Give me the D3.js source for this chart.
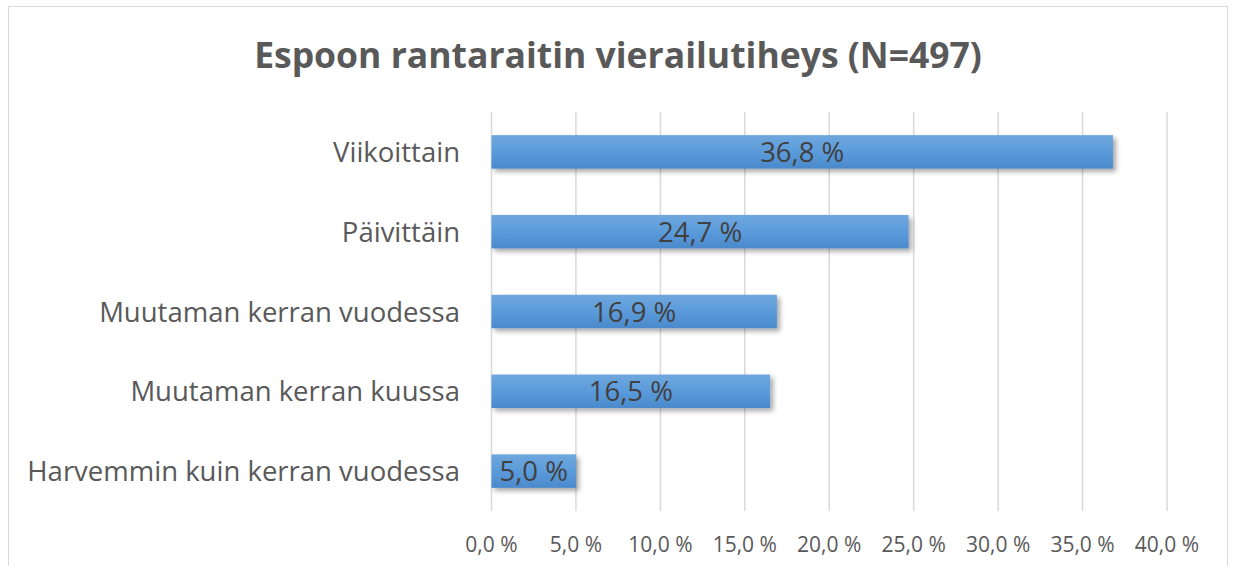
<!DOCTYPE html>
<html>
<head>
<meta charset="utf-8">
<script src="https://cdn.jsdelivr.net/npm/d3@7"></script>
<style>
  body { margin: 0; background: #fff; }
  text { font-family: "Open Sans", sans-serif; }
</style>
</head>
<body>
<svg id="chart" width="1234" height="566"></svg>
<script>
// chart data
var categories = ["Viikoittain", "Päivittäin", "Muutaman kerran vuodessa", "Muutaman kerran kuussa", "Harvemmin kuin kerran vuodessa"];
var values = [36.8, 24.7, 16.9, 16.5, 5.0];
var xTicks = [0, 5, 10, 15, 20, 25, 30, 35, 40];
var title = "Espoon rantaraitin vierailutiheys (N=497)";

var svg = d3.select("#chart");
var fmt = function (v) { return v.toFixed(1).replace(".", ",") + " %"; };

// outer frame
svg.append("rect")
    .attr("x", 8.5).attr("y", 6.5)
    .attr("width", 1219).attr("height", 570)
    .attr("fill", "#fff")
    .attr("stroke", "#d9d9d9").attr("stroke-width", 1);

var defs = svg.append("defs");
var grad = defs.append("linearGradient")
    .attr("id", "barGrad").attr("x1", 0).attr("y1", 0).attr("x2", 0).attr("y2", 1);
grad.append("stop").attr("offset", "0%").attr("stop-color", "#6fa7dd");
grad.append("stop").attr("offset", "50%").attr("stop-color", "#5b9bdb");
grad.append("stop").attr("offset", "100%").attr("stop-color", "#4a89cb");

var shadow = defs.append("filter").attr("id", "shadow")
    .attr("x", "-10%").attr("y", "-30%").attr("width", "130%").attr("height", "190%");
shadow.append("feDropShadow")
    .attr("dx", 3).attr("dy", 3).attr("stdDeviation", 2.5)
    .attr("flood-color", "#000").attr("flood-opacity", 0.35);

var x = d3.scaleLinear().domain([0, 40]).range([491.5, 1167]);
var y = d3.scaleBand().domain(categories).range([112, 511]).paddingInner(0.58).paddingOuter(0.29);

// gridlines
svg.append("g").selectAll("line")
    .data(xTicks)
    .enter().append("line")
    .attr("x1", function (d) { return x(d); })
    .attr("x2", function (d) { return x(d); })
    .attr("y1", 112).attr("y2", 511)
    .attr("stroke", "#d9d9d9").attr("stroke-width", 1.5);

// tick labels
svg.append("g").selectAll("text")
    .data(xTicks)
    .enter().append("text")
    .attr("x", function (d) { return x(d); })
    .attr("y", 552)
    .attr("text-anchor", "middle")
    .attr("font-size", 21)
    .attr("fill", "#595959")
    .text(fmt);

// bars
svg.append("g").selectAll("rect")
    .data(values)
    .enter().append("rect")
    .attr("x", x(0))
    .attr("y", function (d, i) { return y(categories[i]); })
    .attr("width", function (d) { return x(d) - x(0); })
    .attr("height", y.bandwidth())
    .attr("fill", "url(#barGrad)")
    .attr("filter", "url(#shadow)");

// value labels
svg.append("g").selectAll("text")
    .data(values)
    .enter().append("text")
    .attr("x", function (d) { return (x(d) + x(0)) / 2; })
    .attr("y", function (d, i) { return y(categories[i]) + y.bandwidth() / 2 + 10; })
    .attr("text-anchor", "middle")
    .attr("font-size", 27.5)
    .attr("fill", "#404040")
    .text(fmt);

// category labels
svg.append("g").selectAll("text")
    .data(categories)
    .enter().append("text")
    .attr("x", 460)
    .attr("y", function (d) { return y(d) + y.bandwidth() / 2 + 10; })
    .attr("text-anchor", "end")
    .attr("font-size", 27.5)
    .attr("fill", "#595959")
    .text(function (d) { return d; });

// title
svg.append("text")
    .attr("x", 618).attr("y", 68)
    .attr("text-anchor", "middle")
    .attr("font-size", 35.5)
    .attr("font-weight", "bold")
    .attr("fill", "#595959")
    .text(title);
</script>
</body>
</html>
